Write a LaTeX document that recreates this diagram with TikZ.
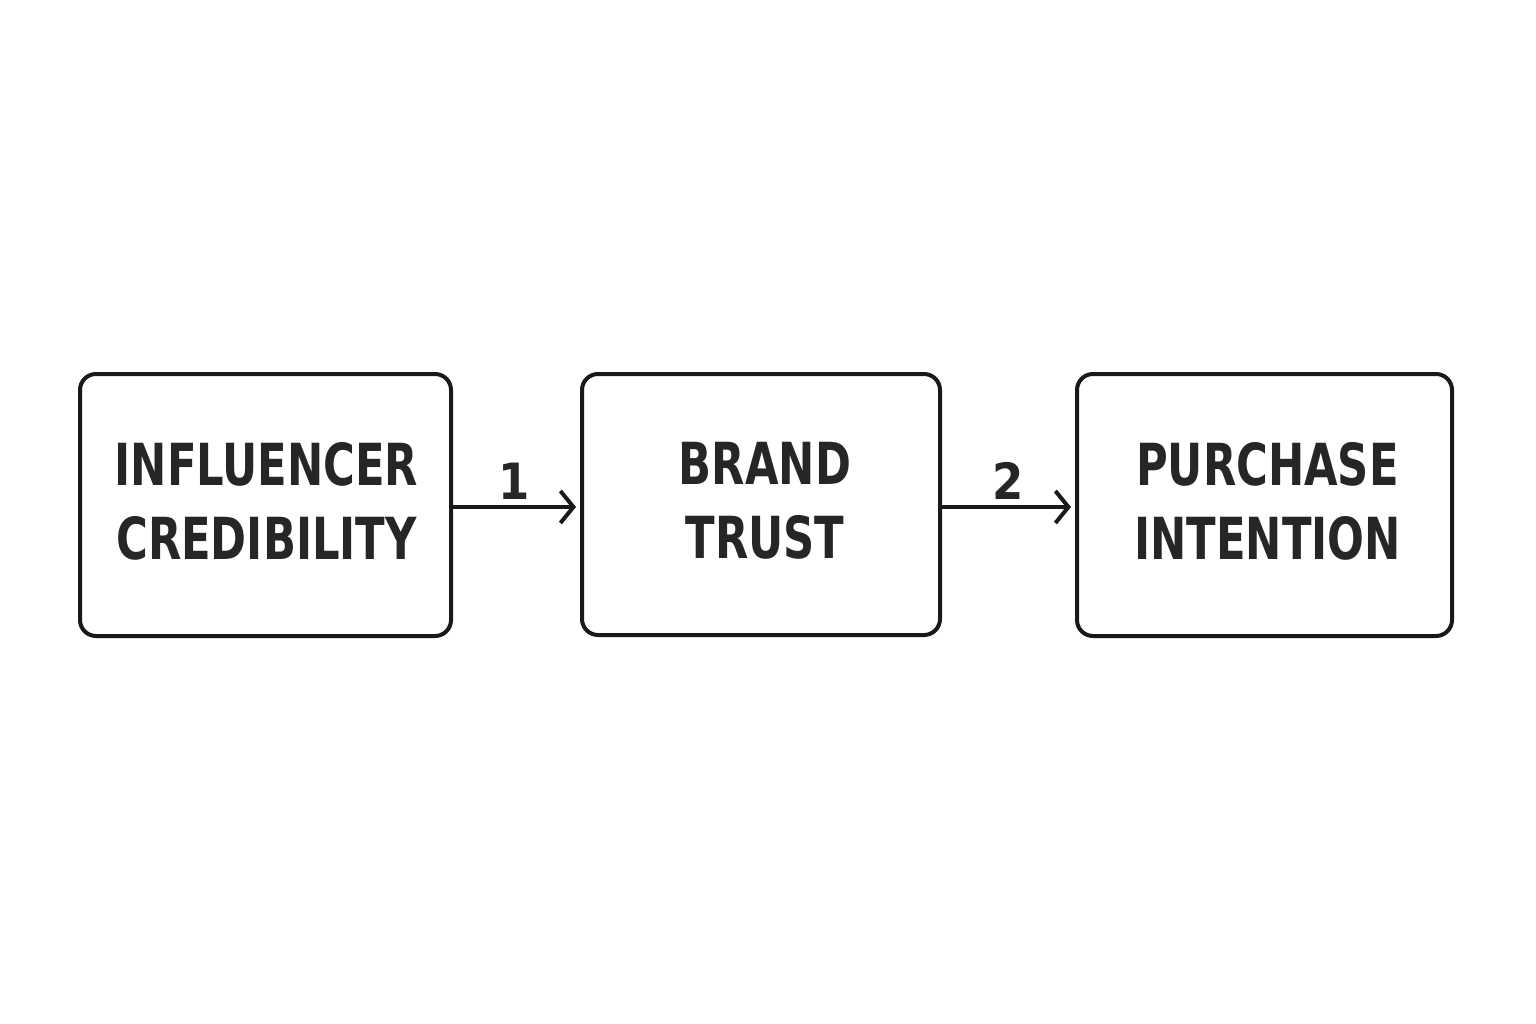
\documentclass[tikz,border=0pt]{standalone}
\usepackage{fontspec}
\setmainfont{DejaVu Sans Condensed}
\usetikzlibrary{arrows.meta}
\begin{document}
\begin{tikzpicture}[x=1pt,y=-1pt,
  boxstyle/.style={draw=black!90, line width=4pt, rounded corners=16pt, inner sep=0pt},
  boxtext/.style={font=\fontsize{58}{74}\selectfont\bfseries, align=center, text=black!85, xscale=0.83},
  arr/.style={line width=4pt, draw=black!90, -{Straight Barb[length=13pt,width=32pt,line width=4pt]}},
  lbl/.style={font=\fontsize{50}{60}\selectfont\bfseries, text=black!85}]
\useasboundingbox (0,0) rectangle (1536,1024);
\node[boxstyle, minimum width=371pt, minimum height=262pt] (a) at (265.5,505) {};
\node[boxstyle, minimum width=358pt, minimum height=261pt] (b) at (761,504.5) {};
\node[boxstyle, minimum width=375pt, minimum height=262pt] (c) at (1264.5,505) {};
\node[boxtext] (ta) at ([yshift=4pt,xshift=1pt]a.center) {INFLUENCER\\CREDIBILITY};
\node[boxtext] (tb) at ([yshift=4pt,xshift=4pt]b.center) {BRAND\\TRUST};
\node[boxtext] (tc) at ([yshift=4pt,xshift=3pt]c.center) {PURCHASE\\INTENTION};
\coordinate (a1) at (a.east |- 0,507);
\coordinate (b1) at (b.west |- 0,507);
\coordinate (b2) at (b.east |- 0,507);
\coordinate (c1) at (c.west |- 0,507);
\draw[arr] (a1) -- ([xshift=-4pt]b1);
\draw[arr] (b2) -- ([xshift=-4pt]c1);
\node[lbl] (l1) at (514,481) {1};
\node[lbl] (l2) at (1008,481) {2};
\end{tikzpicture}
\end{document}
